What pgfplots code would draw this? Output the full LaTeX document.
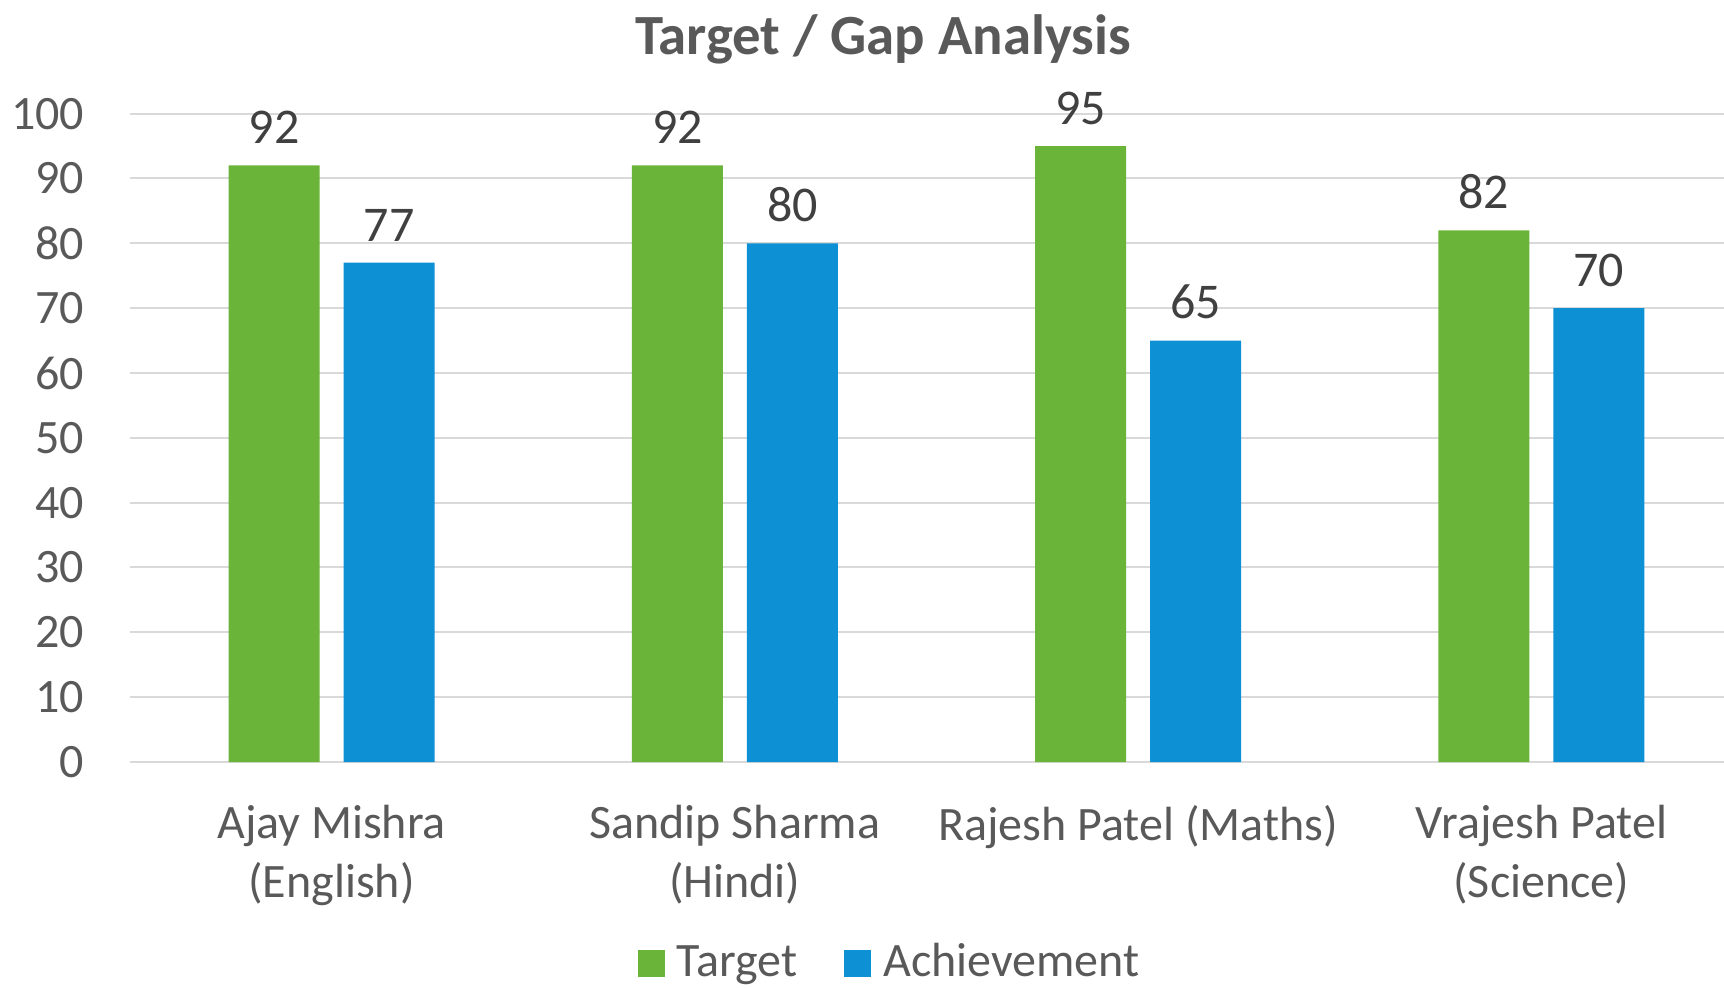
\documentclass[border=0pt]{standalone}
\usepackage{fontspec}
\setmainfont{Carlito}
\usepackage{pgfplots}
\pgfplotsset{compat=1.18}
\definecolor{tgreen}{RGB}{106,180,57}
\definecolor{ablue}{RGB}{14,145,212}
\definecolor{txtgray}{RGB}{89,89,89}
\definecolor{lblgray}{RGB}{64,64,64}
\definecolor{gridgray}{RGB}{217,217,217}

\begin{document}
\begin{tikzpicture}
  \begin{axis}[
      at={(0pt,0pt)}, anchor=south west,
      scale only axis,
      width=398.5pt, height=162.1pt,
      ybar=6pt, bar width=22.75pt,
      xmin=-0.5, xmax=3.453,
      ymin=0, ymax=100,
      enlarge x limits=false,
      xtick={0,1,2,3},
      xticklabels={Ajay Mishra\\(English), Sandip Sharma\\(Hindi), Rajesh Patel (Maths), Vrajesh Patel\\(Science)},
      ytick={0,10,...,100},
      major tick length=0pt,
      axis line style={draw=none},
      ymajorgrids=true,
      grid style={gridgray, line width=0.5pt},
      clip=false,
      /pgf/number format/assume math mode=true,
      yticklabel style={font=\fontsize{12}{14}\selectfont, text=txtgray, anchor=east, inner sep=0pt, xshift=-11.25pt},
      xticklabel style={font=\fontsize{12}{14.6}\selectfont, text=txtgray, align=center, anchor=north, inner sep=0pt, yshift=-10.7pt},
      nodes near coords,
      nodes near coords style={font=\fontsize{12.5}{15}\selectfont, text=lblgray, anchor=south, inner sep=0pt, yshift=5.2pt},
      legend style={draw=none, fill=none, at={(0.3179,-0.3327)}, anchor=south west,
        inner xsep=0pt, inner ysep=0pt,
        cells={anchor=base},
        font=\fontsize{12}{14}\selectfont, text=txtgray,
        nodes={inner sep=0pt, text depth=0pt},
        /tikz/every odd column/.append style={column sep=3pt},
        /tikz/every even column/.append style={column sep=11.8pt}},
      legend columns=-1,
      legend image code/.code={\draw[#1,/tikz/.cd,draw=none] (0pt,0pt) rectangle (6.75pt,6.75pt);},
    ]
    \addplot[draw=none, fill=tgreen] coordinates {(0,92) (1,92) (2,95) (3,82)};
    \addplot[draw=none, fill=ablue] coordinates {(0,77) (1,80) (2,65) (3,70)};
    \legend{Target, Achievement}
  \end{axis}
  \node[anchor=base, font=\fontsize{14.2}{17}\selectfont\bfseries, text=txtgray] at (188.25pt,176.75pt) {Target / Gap Analysis};
  \pgfresetboundingbox
  \useasboundingbox (-32.5pt,-56.25pt) rectangle (398.5pt,190.5pt);
\end{tikzpicture}
\end{document}
